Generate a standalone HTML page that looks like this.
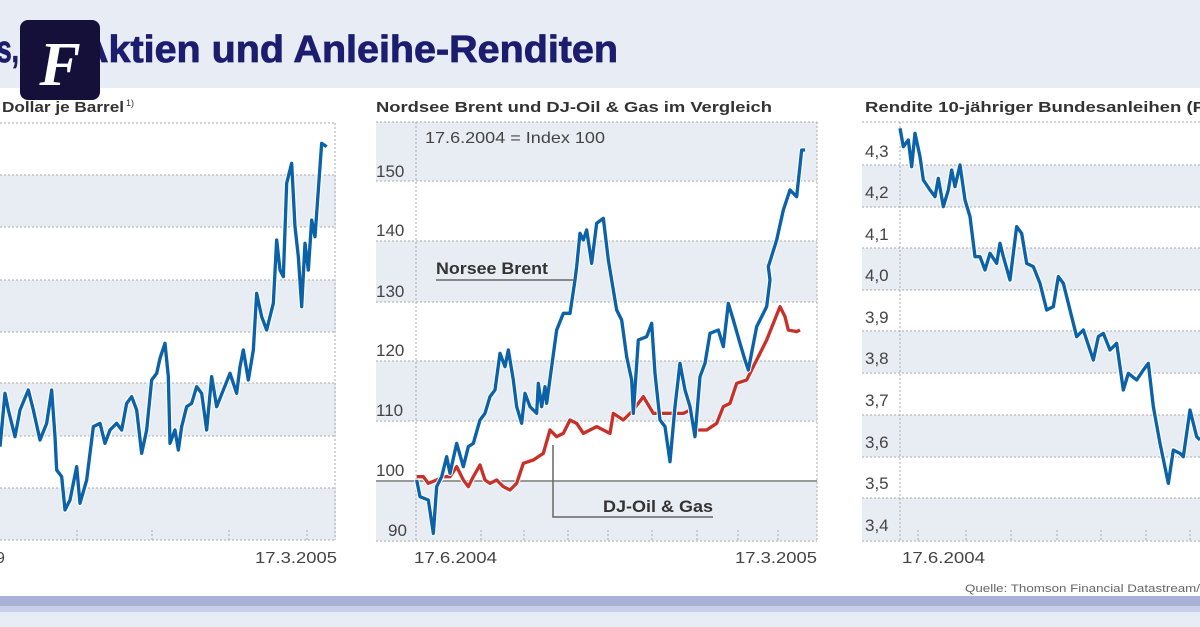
<!DOCTYPE html>
<html><head><meta charset="utf-8"><style>
html,body{margin:0;padding:0;background:#fff;}
svg{display:block;}
.t{font-family:"Liberation Sans Narrow","Liberation Sans",sans-serif;}
</style></head><body>
<svg width="1200" height="627" viewBox="0 0 1200 627" xmlns="http://www.w3.org/2000/svg">
<rect x="0" y="0" width="1200" height="627" fill="#fff"/>
<rect x="0" y="0" width="1200" height="88" fill="#e8ecf4"/>
<text x="-3" y="62" font-family="Liberation Sans,sans-serif" font-weight="bold" font-size="38" fill="#1c1d6e" stroke="#1c1d6e" stroke-width="0.8" textLength="22" lengthAdjust="spacingAndGlyphs">s,</text>
<text x="80" y="62" font-family="Liberation Sans,sans-serif" font-weight="bold" font-size="38" fill="#1c1d6e" stroke="#1c1d6e" stroke-width="0.8" textLength="538" lengthAdjust="spacingAndGlyphs">Aktien und Anleihe-Renditen</text>
<rect x="20" y="20" width="80" height="80" rx="8" fill="#15103a"/>
<text x="60" y="85" text-anchor="middle" font-family="Liberation Serif,serif" font-style="italic" font-weight="bold" font-size="62" fill="#fff">F</text>

<!-- bottom -->
<rect x="0" y="596" width="1200" height="10" fill="#a9b1d6"/>
<rect x="0" y="606" width="1200" height="6" fill="#c9cfe8"/>
<rect x="0" y="612" width="1200" height="15" fill="#e8ecf4"/>
<text class="t" x="965" y="592" font-size="11" fill="#666" textLength="235" lengthAdjust="spacingAndGlyphs">Quelle: Thomson Financial Datastream/</text>

<!-- CHART 1 -->
<text class="t" x="2" y="112" font-size="15" font-weight="bold" fill="#333" textLength="122" lengthAdjust="spacingAndGlyphs">Dollar je Barrel</text>
<text class="t" x="126" y="106" font-size="9" fill="#333">1)</text>
<g fill="#e8ecf3">
<rect x="0" y="175" width="336" height="52"/><rect x="0" y="280" width="336" height="52"/>
<rect x="0" y="383" width="336" height="53"/><rect x="0" y="488" width="336" height="52"/>
</g>
<g stroke="#aaa" stroke-dasharray="2 2" stroke-width="1">
<line x1="0" y1="123" x2="336" y2="123"/><line x1="0" y1="175" x2="336" y2="175"/><line x1="0" y1="227" x2="336" y2="227"/>
<line x1="0" y1="280" x2="336" y2="280"/><line x1="0" y1="332" x2="336" y2="332"/><line x1="0" y1="383" x2="336" y2="383"/>
<line x1="0" y1="436" x2="336" y2="436"/><line x1="0" y1="488" x2="336" y2="488"/><line x1="0" y1="540" x2="336" y2="540"/>
<line x1="335" y1="123" x2="335" y2="540"/>
<line x1="77" y1="530" x2="77" y2="540"/><line x1="152" y1="530" x2="152" y2="540"/><line x1="229" y1="530" x2="229" y2="540"/><line x1="307" y1="530" x2="307" y2="540"/>
</g>
<g transform="translate(0,110) scale(0.33333)" fill="none" stroke-linejoin="round">
<polyline stroke="#fff" stroke-width="17" points="0,1010 15,850 25,900 45,980 60,900 85,840 100,900 120,990 140,940 155,840 165,980 170,1080 185,1100 195,1200 210,1170 230,1070 240,1180 260,1110 280,950 300,940 315,1000 330,960 350,940 365,960 380,880 395,860 410,900 425,1030 440,960 455,810 470,790 480,745 495,700 505,800 510,1000 525,960 535,1020 545,950 560,890 575,880 590,830 605,850 620,960 635,800 650,890 670,840 690,790 700,820 710,850 720,770 730,720 745,810 760,720 770,550 785,620 800,660 820,580 830,390 840,480 850,500 860,220 875,160 885,350 895,440 905,590 915,400 925,480 935,330 945,380 955,240 965,100 980,110"/>
<polyline stroke="#0b62a8" stroke-width="10" points="0,1010 15,850 25,900 45,980 60,900 85,840 100,900 120,990 140,940 155,840 165,980 170,1080 185,1100 195,1200 210,1170 230,1070 240,1180 260,1110 280,950 300,940 315,1000 330,960 350,940 365,960 380,880 395,860 410,900 425,1030 440,960 455,810 470,790 480,745 495,700 505,800 510,1000 525,960 535,1020 545,950 560,890 575,880 590,830 605,850 620,960 635,800 650,890 670,840 690,790 700,820 710,850 720,770 730,720 745,810 760,720 770,550 785,620 800,660 820,580 830,390 840,480 850,500 860,220 875,160 885,350 895,440 905,590 915,400 925,480 935,330 945,380 955,240 965,100 980,110"/>
</g>
<text class="t" x="-4" y="563" font-size="16" fill="#444">9</text>
<text class="t" x="255" y="563" font-size="16" fill="#444" textLength="82" lengthAdjust="spacingAndGlyphs">17.3.2005</text>

<!-- CHART 2 -->
<text class="t" x="376" y="112" font-size="15" font-weight="bold" fill="#333" textLength="396" lengthAdjust="spacingAndGlyphs">Nordsee Brent und DJ-Oil &amp; Gas im Vergleich</text>
<g fill="#e8ecf3">
<rect x="376" y="122" width="441" height="59"/><rect x="376" y="241" width="441" height="61"/>
<rect x="376" y="361" width="441" height="60"/><rect x="376" y="481" width="441" height="60"/>
</g>
<g stroke="#aaa" stroke-dasharray="2 2" stroke-width="1">
<line x1="376" y1="122" x2="817" y2="122"/><line x1="376" y1="181" x2="817" y2="181"/><line x1="376" y1="241" x2="817" y2="241"/>
<line x1="376" y1="302" x2="817" y2="302"/><line x1="376" y1="361" x2="817" y2="361"/><line x1="376" y1="421" x2="817" y2="421"/>
<line x1="376" y1="541" x2="817" y2="541"/>
<line x1="416" y1="122" x2="416" y2="541"/><line x1="817" y1="122" x2="817" y2="541"/>
<line x1="481" y1="530" x2="481" y2="541"/><line x1="524" y1="530" x2="524" y2="541"/><line x1="568" y1="530" x2="568" y2="541"/><line x1="608" y1="530" x2="608" y2="541"/><line x1="652" y1="530" x2="652" y2="541"/><line x1="697" y1="530" x2="697" y2="541"/><line x1="738" y1="530" x2="738" y2="541"/><line x1="778" y1="530" x2="778" y2="541"/>
</g>
<line x1="376" y1="481" x2="817" y2="481" stroke="#999" stroke-width="2"/>
<g class="t" font-size="17" fill="#444">
<text x="376" y="177">150</text><text x="376" y="236">140</text><text x="376" y="297">130</text>
<text x="376" y="356">120</text><text x="376" y="416">110</text><text x="376" y="476">100</text><text x="388" y="536">90</text>
</g>
<text class="t" x="425" y="143" font-size="16" fill="#444" textLength="180" lengthAdjust="spacingAndGlyphs">17.6.2004 = Index 100</text>
<g transform="translate(370,280) scale(0.33333)" fill="none" stroke-linejoin="round">
<polyline stroke="#fff" stroke-width="16" points="140,590 160,590 175,610 200,600 220,590 240,590 260,560 280,600 295,620 310,590 330,555 345,600 360,610 380,600 400,620 420,630 440,610 460,550 490,540 520,520 540,450 560,470 580,460 600,420 620,430 640,460 660,450 680,440 700,450 720,460 730,400 760,420 790,390 820,350 850,400 880,400 910,400 940,400 960,390 980,450 1010,450 1040,430 1060,380 1080,370 1100,310 1130,300 1150,260 1170,220 1190,180 1210,130 1230,80 1245,110 1255,150 1280,155 1290,150"/>
<polyline stroke="#c8312a" stroke-width="10" points="140,590 160,590 175,610 200,600 220,590 240,590 260,560 280,600 295,620 310,590 330,555 345,600 360,610 380,600 400,620 420,630 440,610 460,550 490,540 520,520 540,450 560,470 580,460 600,420 620,430 640,460 660,450 680,440 700,450 720,460 730,400 760,420 790,390 820,350 850,400 880,400 910,400 940,400 960,390 980,450 1010,450 1040,430 1060,380 1080,370 1100,310 1130,300 1150,260 1170,220 1190,180 1210,130 1230,80 1245,110 1255,150 1280,155 1290,150"/>
<polyline stroke="#fff" stroke-width="16" points="140,600 150,650 175,660 190,760 200,620 215,590 230,530 240,580 260,490 280,560 295,500 310,490 330,420 345,400 360,350 375,330 390,220 405,260 415,210 430,300 440,380 455,430 465,340 480,380 500,400 505,310 515,380 525,320 530,370 545,260 560,150 580,100 600,100 615,0 620,-40 630,-140 640,-120 650,-150 665,-50 680,-170 700,-185 715,-60 725,0 740,90 755,120 770,230 785,300 790,400 805,180 830,170 845,130 855,280 870,420 885,440 900,545 915,380 930,250 945,330 960,380 975,470 990,290 1005,250 1020,160 1045,150 1060,200 1075,70 1090,120 1110,190 1125,240 1135,270 1160,140 1190,80 1200,0 1195,-40 1220,-120 1240,-210 1260,-270 1280,-250 1295,-390 1305,-390"/>
<polyline stroke="#0b62a8" stroke-width="10" points="140,600 150,650 175,660 190,760 200,620 215,590 230,530 240,580 260,490 280,560 295,500 310,490 330,420 345,400 360,350 375,330 390,220 405,260 415,210 430,300 440,380 455,430 465,340 480,380 500,400 505,310 515,380 525,320 530,370 545,260 560,150 580,100 600,100 615,0 620,-40 630,-140 640,-120 650,-150 665,-50 680,-170 700,-185 715,-60 725,0 740,90 755,120 770,230 785,300 790,400 805,180 830,170 845,130 855,280 870,420 885,440 900,545 915,380 930,250 945,330 960,380 975,470 990,290 1005,250 1020,160 1045,150 1060,200 1075,70 1090,120 1110,190 1125,240 1135,270 1160,140 1190,80 1200,0 1195,-40 1220,-120 1240,-210 1260,-270 1280,-250 1295,-390 1305,-390"/>
</g>
<text class="t" x="436" y="274" font-size="17" font-weight="bold" fill="#333" textLength="112" lengthAdjust="spacingAndGlyphs">Norsee Brent</text>
<polyline points="436,280 575,280" stroke="#666" stroke-width="1.5" fill="none"/>
<polyline points="553,445 553,517 713,517" stroke="#666" stroke-width="1.5" fill="none"/>
<text class="t" x="603" y="512" font-size="17" font-weight="bold" fill="#333" textLength="110" lengthAdjust="spacingAndGlyphs">DJ-Oil &amp; Gas</text>
<text class="t" x="414" y="563" font-size="16" fill="#444" textLength="83" lengthAdjust="spacingAndGlyphs">17.6.2004</text>
<text class="t" x="735" y="563" font-size="16" fill="#444" textLength="82" lengthAdjust="spacingAndGlyphs">17.3.2005</text>

<!-- CHART 3 -->
<text class="t" x="865" y="112" font-size="15" font-weight="bold" fill="#333" textLength="340" lengthAdjust="spacingAndGlyphs">Rendite 10-jähriger Bundesanleihen (P</text>
<g fill="#e8ecf3">
<rect x="862" y="165" width="338" height="42"/><rect x="862" y="248" width="338" height="42"/>
<rect x="862" y="331" width="338" height="42"/><rect x="862" y="415" width="338" height="42"/>
<rect x="862" y="498" width="338" height="43"/>
</g>
<g stroke="#aaa" stroke-dasharray="2 2" stroke-width="1">
<line x1="862" y1="122" x2="1200" y2="122"/><line x1="862" y1="165" x2="1200" y2="165"/><line x1="862" y1="207" x2="1200" y2="207"/>
<line x1="862" y1="248" x2="1200" y2="248"/><line x1="862" y1="290" x2="1200" y2="290"/><line x1="862" y1="331" x2="1200" y2="331"/>
<line x1="862" y1="373" x2="1200" y2="373"/><line x1="862" y1="415" x2="1200" y2="415"/><line x1="862" y1="457" x2="1200" y2="457"/>
<line x1="862" y1="498" x2="1200" y2="498"/><line x1="862" y1="541" x2="1200" y2="541"/>
<line x1="900" y1="122" x2="900" y2="541"/>
<line x1="918" y1="530" x2="918" y2="541"/><line x1="966" y1="530" x2="966" y2="541"/><line x1="1011" y1="530" x2="1011" y2="541"/><line x1="1057" y1="530" x2="1057" y2="541"/><line x1="1101" y1="530" x2="1101" y2="541"/><line x1="1146" y1="530" x2="1146" y2="541"/><line x1="1190" y1="530" x2="1190" y2="541"/>
</g>
<g class="t" font-size="17" fill="#444">
<text x="865" y="157">4,3</text><text x="865" y="198">4,2</text><text x="865" y="240">4,1</text>
<text x="865" y="281">4,0</text><text x="865" y="323">3,9</text><text x="865" y="364">3,8</text>
<text x="865" y="406">3,7</text><text x="865" y="448">3,6</text><text x="865" y="489">3,5</text><text x="865" y="531">3,4</text>
</g>
<g transform="translate(850,90) scale(0.33333)" fill="none" stroke-linejoin="round">
<polyline stroke="#fff" stroke-width="17" points="150,115 160,170 175,150 185,230 195,130 210,200 220,270 240,300 255,320 265,265 280,350 295,300 305,240 315,290 330,225 345,330 360,380 375,500 390,500 405,540 420,490 440,520 450,460 460,500 480,570 500,410 515,430 530,520 550,530 570,580 590,660 610,650 625,560 640,580 655,640 665,680 680,740 700,720 720,780 730,810 745,740 760,730 780,780 800,760 820,900 835,850 860,870 880,840 895,820 910,950 930,1060 955,1180 970,1080 990,1090 1000,1100 1020,960 1040,1040 1050,1050"/>
<polyline stroke="#0b62a8" stroke-width="10" points="150,115 160,170 175,150 185,230 195,130 210,200 220,270 240,300 255,320 265,265 280,350 295,300 305,240 315,290 330,225 345,330 360,380 375,500 390,500 405,540 420,490 440,520 450,460 460,500 480,570 500,410 515,430 530,520 550,530 570,580 590,660 610,650 625,560 640,580 655,640 665,680 680,740 700,720 720,780 730,810 745,740 760,730 780,780 800,760 820,900 835,850 860,870 880,840 895,820 910,950 930,1060 955,1180 970,1080 990,1090 1000,1100 1020,960 1040,1040 1050,1050"/>
</g>
<text class="t" x="902" y="563" font-size="16" fill="#444" textLength="83" lengthAdjust="spacingAndGlyphs">17.6.2004</text>
</svg>
</body></html>
